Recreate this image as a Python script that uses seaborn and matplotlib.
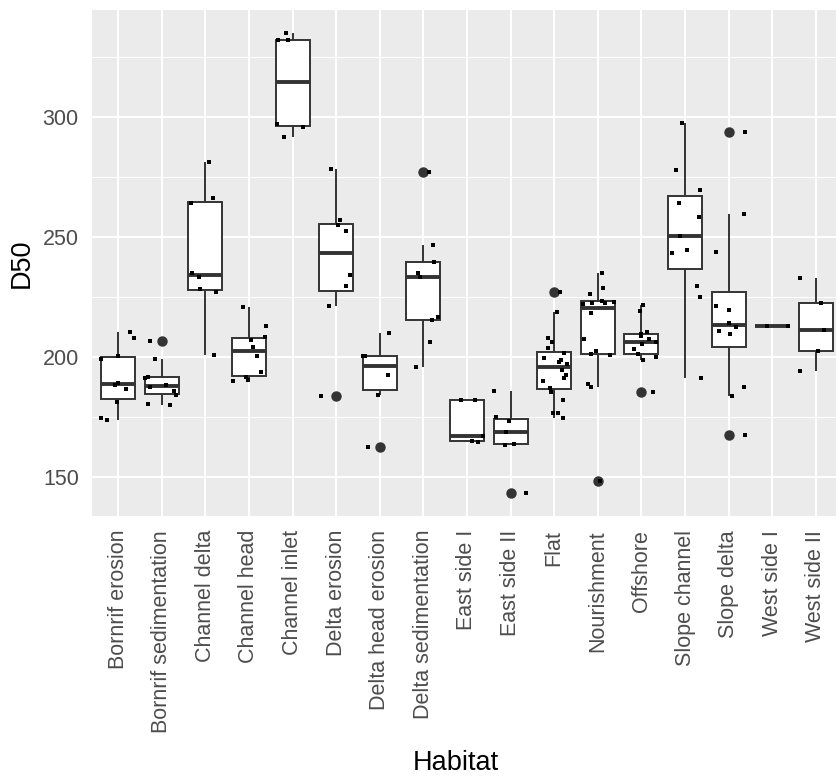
import numpy as np
import pandas as pd
import matplotlib
matplotlib.use("Agg")
import matplotlib.pyplot as plt
import seaborn as sns
from matplotlib.ticker import MultipleLocator, FixedLocator

# Median grain size (D50) samples per habitat
habitats = [
    "Bornrif erosion", "Bornrif sedimentation", "Channel delta", "Channel head",
    "Channel inlet", "Delta erosion", "Delta head erosion", "Delta sedimentation",
    "East side I", "East side II", "Flat", "Nourishment", "Offshore",
    "Slope channel", "Slope delta", "West side I", "West side II",
]

bornrif_erosion = [173.6, 174.5, 181.0, 186.5, 188.4, 189.0, 199.0, 200.2, 207.8, 210.2]
bornrif_sedimentation = [179.8, 180.5, 184.0, 185.6, 187.5, 188.1, 191.0, 191.8, 199.2, 206.5]
channel_delta = [200.8, 227.0, 228.1, 233.5, 235.1, 264.0, 266.4, 281.4]
channel_head = [189.8, 190.5, 191.5, 193.5, 200.5, 204.3, 207.0, 208.1, 213.0, 220.6]
channel_inlet = [291.8, 296.0, 297.2, 332.0, 332.3, 335.1]
delta_erosion = [183.5, 221.3, 229.6, 234.0, 252.4, 255.0, 257.0, 278.4]
delta_head_erosion = [162.5, 184.2, 192.3, 200.3, 200.3, 210.0]
delta_sedimentation = [195.7, 206.0, 215.5, 216.5, 233.3, 235.0, 239.5, 246.5, 277.0]
east_side_1 = [164.3, 164.9, 167.1, 181.9, 182.2]
east_side_2 = [143.2, 163.3, 163.7, 168.5, 173.2, 174.8, 185.8]
flat = [174.3, 176.7, 176.7, 181.8, 185.5, 187.1, 190.1, 191.1, 192.5, 194.5,
        196.9, 197.8, 198.5, 199.4, 201.5, 203.5, 206.3, 207.7, 218.5, 227.1]
nourishment = [148.0, 187.4, 188.8, 200.8, 201.1, 202.6, 207.5, 218.4,
               222.2, 222.3, 222.6, 223.0, 223.4, 226.1, 228.9, 234.9]
offshore = [185.4, 198.5, 200.1, 201.0, 203.3, 205.4, 206.1, 207.5, 208.6,
            209.5, 210.5, 219.0, 221.8]
slope_channel = [191.2, 225.0, 229.6, 243.4, 244.5, 250.6, 258.2, 264.2, 269.6, 278.0, 297.4]
slope_delta = [167.6, 183.5, 187.3, 209.6, 210.7, 212.5, 214.3, 219.6, 221.3, 243.9, 259.6, 294.0]
west_side_1 = [212.7, 212.7]
west_side_2 = [194.3, 202.6, 211.3, 222.3, 233.1]

samples = [
    bornrif_erosion, bornrif_sedimentation, channel_delta, channel_head,
    channel_inlet, delta_erosion, delta_head_erosion, delta_sedimentation,
    east_side_1, east_side_2, flat, nourishment, offshore,
    slope_channel, slope_delta, west_side_1, west_side_2,
]

df = pd.DataFrame(
    [(h, v) for h, vals in zip(habitats, samples) for v in vals],
    columns=["Habitat", "D50"],
)

sns.set_theme(style="darkgrid")
plt.rcParams["font.family"] = ["Liberation Sans", "DejaVu Sans"]

W, H = 836, 782
fig = plt.figure(figsize=(W / 100, H / 100), dpi=100)
fig.patch.set_facecolor("white")
# panel: left 92px, top 10px, bottom 516px, 17.2 category units of 43.6px
ax = fig.add_axes([92 / W, (H - 516) / H, 750 / W, 506 / H])
ax.set_facecolor("#EBEBEB")

dark = "#333333"
sns.boxplot(
    data=df, x="Habitat", y="D50", order=habitats, ax=ax,
    color="white", saturation=1, linecolor=dark, linewidth=1.4,
    width=0.78, whis=1.5, showcaps=False,
    medianprops=dict(color=dark, linewidth=2.8),
    flierprops=dict(marker="o", markersize=6.5,
                    markerfacecolor=dark, markeredgecolor=dark),
)

np.random.seed(11)
sns.stripplot(
    data=df, x="Habitat", y="D50", order=habitats, ax=ax,
    jitter=0.4, color="black", marker="s", size=3.3, linewidth=0,
    zorder=5,
)

lo, hi = df["D50"].min(), df["D50"].max()
pad = 0.05 * (hi - lo)
ax.set_ylim(lo - pad, hi + pad)
ax.set_xlim(-0.6, len(habitats) - 0.4)

ax.yaxis.set_major_locator(FixedLocator([150, 200, 250, 300]))
ax.yaxis.set_minor_locator(MultipleLocator(25))
ax.set_axisbelow(True)
ax.grid(which="major", color="white", linewidth=1.5)
ax.grid(which="minor", axis="y", color="white", linewidth=0.75)
ax.tick_params(which="minor", length=0)
for s in ax.spines.values():
    s.set_visible(False)

ax.tick_params(axis="both", which="major", labelsize=15.5, labelcolor="#4D4D4D",
               color=dark, length=4.5, width=1.1)
ax.tick_params(axis="y", pad=5)
ax.tick_params(axis="x", pad=5.5, labelrotation=90)

ax.set_xlabel("Habitat", fontsize=19.5, color="black")
ax.set_ylabel("D50", fontsize=19.5, color="black")
ax.xaxis.label.set_va("center")
ax.yaxis.label.set_va("center")
ax.xaxis.set_label_coords((456 - 92) / 750, -(763 - 516) / 506)
ax.yaxis.set_label_coords((22 - 92) / 750, 0.5)

fig.savefig("out.png", dpi=100)
